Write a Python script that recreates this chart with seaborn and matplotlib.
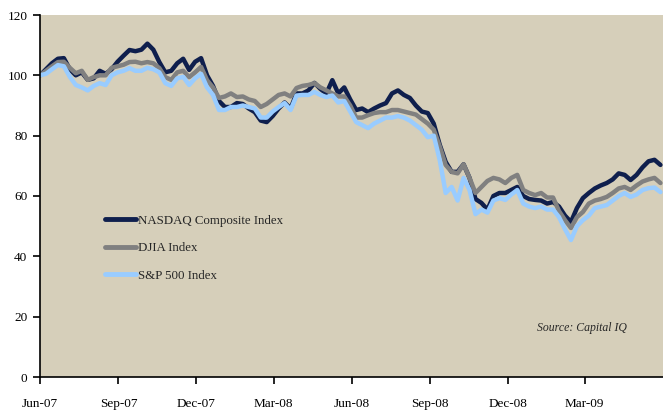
import pandas as pd
import matplotlib
matplotlib.use("Agg")
import matplotlib.pyplot as plt
import matplotlib.dates as mdates
import seaborn as sns

# weekly index levels (start = 100)
start_date = "2007-06-01"
nasdaq = [100, 102, 104, 105.5, 105.7, 102, 100, 101, 98.5, 99,
          101.5, 100.5, 102, 104.5, 106.5, 108.4, 108, 108.5, 110.5, 108.5,
          104.4, 101, 101.5, 104, 105.5, 101.8, 104.5, 105.7, 100, 96.5,
          91.5, 89.5, 89.5, 90.8, 90.5, 89, 87.8, 85, 84.5, 86.5,
          89, 91, 89, 94, 94, 95, 97.5, 95.5, 94, 98.4,
          94, 96, 92, 88.5, 89, 87.8, 89, 90, 90.8, 94,
          95, 93.5, 92.5, 90, 88, 87.5, 84, 77, 71.3, 68,
          68, 70.5, 66, 59, 57.7, 55.5, 60, 61, 61, 62,
          63, 60, 59, 58.7, 58.5, 57.5, 58, 56.5, 53.5, 51.4,
          56, 59.3, 61, 62.5, 63.5, 64.3, 65.5, 67.5, 67, 65.3,
          67, 69.5, 71.5, 72, 70.3]
djia = [100, 101.5, 103, 104.4, 104.5, 102.5, 100.7, 101.5, 98.5, 99.4,
        100, 100, 102.5, 103, 103.5, 104.4, 104.5, 104, 104.4, 104,
        102.4, 99.4, 98.5, 101, 101.5, 99.4, 101, 102.8, 98.4, 96,
        92.5, 93, 94, 92.8, 93, 92, 91.5, 89.5, 90.5, 92,
        93.5, 94, 93, 95.8, 96.5, 96.8, 97.4, 96, 95, 94,
        93, 93, 90, 86, 86, 86.8, 87.5, 87.8, 87.8, 88.5,
        88.5, 88, 87.5, 87, 85.5, 84, 82, 76.5, 70.3, 68,
        67.5, 70.5, 66, 61, 63, 65, 66, 65.5, 64.3, 66,
        67, 62, 61, 60.3, 61, 59.5, 59.5, 55, 52, 49.4,
        53, 54.7, 57.5, 58.5, 59, 59.7, 61, 62.5, 63, 62,
        63.5, 64.8, 65.5, 66, 64.3]
sp500 = [100, 100.5, 102, 103.4, 103, 99.5, 96.8, 96, 95, 96.5,
         97.4, 96.8, 100, 101, 101.5, 102.4, 101.5, 101.5, 102.5, 102,
         101, 97.4, 96.5, 99, 99.5, 96.8, 99, 100.5, 96, 93.5,
         88.5, 88.5, 89.5, 89.5, 90, 89.5, 89, 86, 86, 88,
         89.5, 90.8, 88.5, 93.3, 93.5, 93.5, 94.5, 93.5, 92.8, 93.3,
         91, 91.5, 88, 84.5, 83.5, 82.5, 84, 85, 86, 86,
         86.5, 86, 85, 83.5, 82, 79.5, 80, 72, 61, 63,
         58.5, 66, 62, 54, 55.5, 54.5, 58.5, 59.3, 58.7, 60.5,
         62, 57.5, 56.5, 56, 56.5, 55.5, 55.5, 53, 49, 45.4,
         50, 52, 53.5, 56, 56.5, 57, 58.5, 60, 61, 59.7,
         60.5, 62, 62.6, 62.8, 61.3]

series_names = ["NASDAQ Composite Index", "DJIA Index", "S&P 500 Index"]
colors = ["#0f1f4d", "#808080", "#99ccff"]
tick_dates = ["2007-06-01", "2007-09-01", "2007-12-01", "2008-03-01",
              "2008-06-01", "2008-09-01", "2008-12-01", "2009-03-01"]

dates = pd.date_range(start_date, periods=len(nasdaq), freq="7D")
df = pd.concat([
    pd.DataFrame({"date": dates, "value": vals, "index": name})
    for name, vals in zip(series_names, [nasdaq, djia, sp500])
])

sns.set_style("ticks")
plt.rcParams["font.family"] = ["Liberation Serif", "DejaVu Serif"]

fig = plt.figure(figsize=(6.63, 4.13), dpi=100)
ax = fig.add_axes([40 / 663, 1 - 377 / 413, 623 / 663, 362 / 413])
ax.set_facecolor("#d6cfba")

sns.lineplot(data=df, x="date", y="value", hue="index", hue_order=series_names,
             palette=colors, linewidth=3.2, ax=ax)

ax.set_xlim(dates[0], pd.Timestamp("2009-06-01"))
ax.set_ylim(0, 120)
ax.set_yticks(range(0, 121, 20))
ax.set_xticks(pd.to_datetime(tick_dates))
ax.xaxis.set_major_formatter(mdates.DateFormatter("%b-%y"))
ax.set_xlabel("")
ax.set_ylabel("")

for side in ["top", "right"]:
    ax.spines[side].set_visible(False)
for side in ["left", "bottom"]:
    ax.spines[side].set_color("black")
    ax.spines[side].set_linewidth(1.2)
ax.tick_params(axis="both", direction="out", length=5, width=1.2,
               colors="black", labelsize=9.5)
ax.tick_params(axis="x", pad=10)
ax.tick_params(axis="y", pad=4)

leg = ax.legend(loc="upper left", bbox_to_anchor=(0.085, 0.48), frameon=False,
                fontsize=9.3, handlelength=2.4, handletextpad=0.2,
                labelspacing=1.2)
for line in leg.get_lines():
    line.set_linewidth(3.5)

ax.text(0.942, 0.135, "Source: Capital IQ", transform=ax.transAxes,
        ha="right", va="center", fontsize=8.5, style="italic")

fig.savefig("out.png", dpi=100)
